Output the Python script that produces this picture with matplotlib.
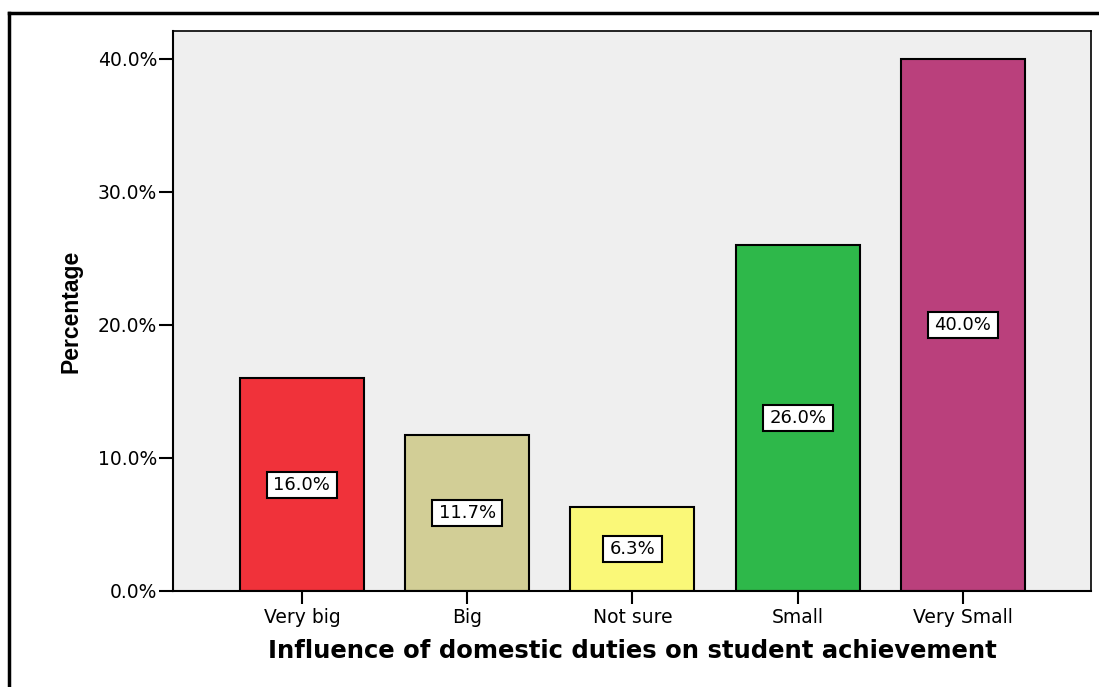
import matplotlib
matplotlib.use("Agg")
import matplotlib.pyplot as plt
from matplotlib.lines import Line2D
from matplotlib.path import Path

categories = ["Very big", "Big", "Not sure", "Small", "Very Small"]
percentages = [16.0, 11.7, 6.3, 26.0, 40.0]
bar_colors = ["#F0323A", "#D2CE96", "#FAF878", "#2EB84A", "#BA407C"]
y_ticks = [0, 10, 20, 30, 40]
y_tick_labels = ["0.0%", "10.0%", "20.0%", "30.0%", "40.0%"]

plt.rcParams["font.family"] = ["DejaVu Sans"]


def label_box(x0, y0, width, height, mutation_size):
    """Square box with wider horizontal than vertical padding."""
    px = 0.36 * mutation_size
    py = 0.22 * mutation_size
    x0, y0 = x0 - px, y0 - py
    x1, y1 = x0 + width + 2 * px, y0 + height + 2 * py
    return Path([(x0, y0), (x1, y0), (x1, y1), (x0, y1), (x0, y0)],
                closed=True)


fig = plt.figure(figsize=(10.99, 6.87), dpi=100)
ax = fig.add_axes([173 / 1099, 96 / 687, (1091 - 173) / 1099, (591 - 31) / 687])
ax.set_facecolor("#EFEFEF")

x = list(range(len(categories)))
ax.bar(x, percentages, width=0.75, color=bar_colors, edgecolor="black",
       linewidth=1.5, zorder=2)

for xi, v in zip(x, percentages):
    ax.text(xi, v / 2, f"{v:.1f}%", ha="center", va="center", fontsize=13,
            zorder=3,
            bbox=dict(boxstyle=label_box, facecolor="white",
                      edgecolor="black", linewidth=1.5))

ax.set_xlim(-0.78, 4.775)
ax.set_ylim(0, 42.1)
ax.set_xticks(x)
ax.set_xticklabels(categories, fontsize=13.5)
ax.set_yticks(y_ticks)
ax.set_yticklabels(y_tick_labels, fontsize=13.5)
ax.tick_params(axis="x", length=9, width=1.5, pad=3)
ax.tick_params(axis="y", length=10, width=1.5, pad=1.5)

for side in ["left", "bottom"]:
    ax.spines[side].set_linewidth(1.5)
for side in ["top", "right"]:
    ax.spines[side].set_linewidth(1.2)

ax.set_ylabel("Percentage", fontsize=16.5, fontweight="bold",
              family="Liberation Sans")
ax.yaxis.set_label_coords((83 - 173) / 918, 0.5)
ax.set_xlabel("Influence of domestic duties on student achievement",
              fontsize=17.5, fontweight="bold", labelpad=9)

# Outer frame running off the right and bottom edges
fig.add_artist(Line2D([9 / 1099, 9 / 1099], [0, 1 - 13 / 687],
                      transform=fig.transFigure, color="black", linewidth=2.5))
fig.add_artist(Line2D([9 / 1099, 1], [1 - 13 / 687, 1 - 13 / 687],
                      transform=fig.transFigure, color="black", linewidth=2.5))

fig.savefig("out.png", dpi=100)
